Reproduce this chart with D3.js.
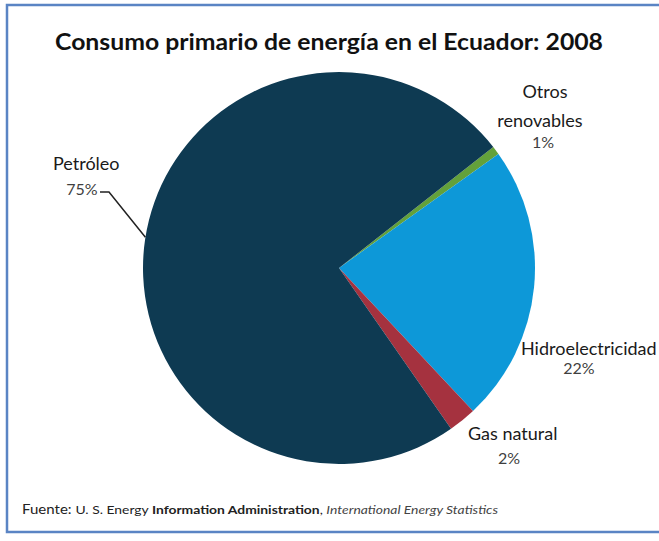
<!DOCTYPE html>
<html>
<head>
<meta charset="utf-8">
<script src="https://cdn.jsdelivr.net/npm/d3@7"></script>
<style>
  body { margin: 0; background: #fff; }
  svg { display: block; font-family: Lato, "Open Sans", sans-serif; }
  .name { fill: #1a1a1a; font-size: 18px; }
  .pct { fill: #3f3f3f; font-size: 16px; }
</style>
</head>
<body>
<div id="wrapper"></div>
<script>
// data (slice order clockwise from the top right)
const categories = ["Otros renovables", "Hidroelectricidad", "Gas natural", "Petróleo"];
const shares = [0.7, 22.9, 2.3, 74.1];
const shareLabels = ["1%", "22%", "2%", "75%"];
const colors = ["#63a13a", "#0d98d8", "#a5323f", "#0e3a52"];

const width = 659, height = 541;
const center = { x: 339, y: 268 };
const radius = 196;

const svg = d3.select("#wrapper").append("svg")
    .attr("width", width)
    .attr("height", height);

// frame
svg.append("path")
    .attr("d", `M${width},5 H7 V532 H${width}`)
    .attr("fill", "none")
    .attr("stroke", "#5a84c4")
    .attr("stroke-width", 2.5);

// title
svg.append("text")
    .attr("x", 55).attr("y", 50)
    .attr("textLength", 548)
    .attr("lengthAdjust", "spacingAndGlyphs")
    .style("font-size", "22px")
    .style("font-weight", "bold")
    .style("fill", "#111")
    .text("Consumo primario de energía en el Ecuador: 2008");

// pie
const pie = d3.pie().sort(null).value(d => d)
    .startAngle(51.9 * Math.PI / 180)
    .endAngle(51.9 * Math.PI / 180 + 2 * Math.PI);
const arc = d3.arc().innerRadius(0).outerRadius(radius);

const g = svg.append("g").attr("transform", `translate(${center.x},${center.y})`);
g.selectAll("path")
    .data(pie(shares))
    .join("path")
    .attr("d", arc)
    .attr("fill", (d, i) => colors[i]);

// labels: name lines, percent position
const labels = [
    { lines: [["Otros", 545, 98], ["renovables", 540, 127]], pct: [543, 148] },
    { lines: [["Hidroelectricidad", 521, 355, "start"]], pct: [579, 374] },
    { lines: [["Gas natural", 468, 440, "start"]], pct: [509, 464] },
    { lines: [["Petróleo", 53, 170, "start"]], pct: [82, 195] }
];

labels.forEach((l, i) => {
    l.lines.forEach(([t, x, y, anchor]) => {
        svg.append("text").attr("class", "name")
            .attr("x", x).attr("y", y)
            .attr("text-anchor", anchor || "middle")
            .text(t);
    });
    svg.append("text").attr("class", "pct")
        .attr("x", l.pct[0]).attr("y", l.pct[1])
        .attr("text-anchor", "middle")
        .text(shareLabels[i]);
});

// leader line for Petróleo, ending on the arc
const petroAngle = 279 * Math.PI / 180;
const edge = [center.x + radius * Math.sin(petroAngle), center.y - radius * Math.cos(petroAngle)];
svg.append("path")
    .attr("d", d3.line()([[100, 192], [109, 192], edge]))
    .attr("fill", "none")
    .attr("stroke", "#222")
    .attr("stroke-width", 1.5);

// source line
const src = svg.append("text")
    .attr("x", 22).attr("y", 514)
    .attr("textLength", 476)
    .attr("lengthAdjust", "spacingAndGlyphs")
    .style("font-size", "12px")
    .style("fill", "#222");
src.append("tspan").style("font-size", "13px").text("Fuente: ");
src.append("tspan").text("U. S. Energy ");
src.append("tspan").style("font-weight", "bold").text("Information Administration");
src.append("tspan").text(", ");
src.append("tspan").style("font-style", "italic").style("fill", "#444").text("International Energy Statistics");
</script>
</body>
</html>
